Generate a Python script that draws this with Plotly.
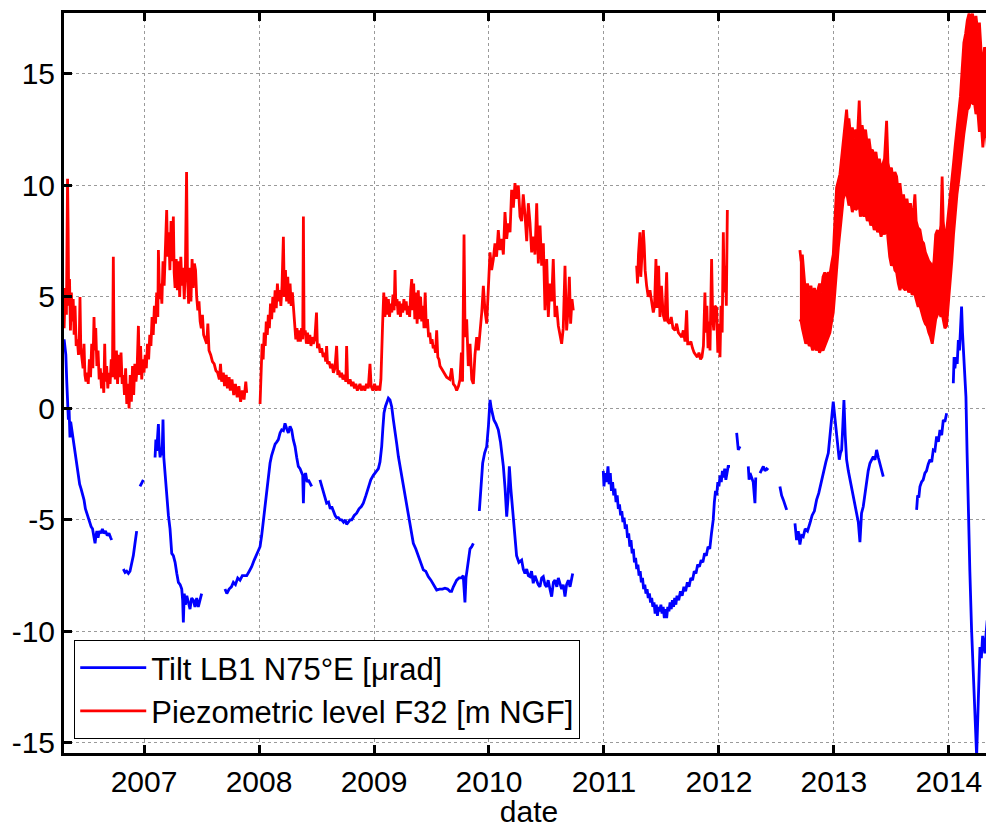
import plotly.graph_objects as go

# ---------------- DATA (decimal year, value) ----------------
# Piezometric level F32 [m NGF] -- red
red1_year = [2006.305, 2006.315, 2006.325, 2006.335, 2006.340, 2006.345, 2006.352, 2006.360, 2006.368, 2006.376,
             2006.384, 2006.392, 2006.400, 2006.410, 2006.420, 2006.430, 2006.438, 2006.443, 2006.450, 2006.460,
             2006.470, 2006.478, 2006.486, 2006.495, 2006.505, 2006.515, 2006.525, 2006.535, 2006.545, 2006.555,
             2006.565, 2006.572, 2006.580, 2006.590, 2006.600, 2006.610, 2006.620, 2006.630, 2006.640, 2006.650,
             2006.658, 2006.665, 2006.675, 2006.685, 2006.695, 2006.705, 2006.715, 2006.725, 2006.733, 2006.740,
             2006.750, 2006.760, 2006.770, 2006.780, 2006.790, 2006.800, 2006.810, 2006.820, 2006.830, 2006.840,
             2006.850, 2006.860, 2006.870, 2006.880, 2006.890, 2006.900, 2006.910, 2006.920, 2006.930, 2006.940,
             2006.951, 2006.960, 2006.970, 2006.980, 2006.990, 2007.000, 2007.010, 2007.020, 2007.030, 2007.040,
             2007.050, 2007.060, 2007.070, 2007.080, 2007.090, 2007.100, 2007.110, 2007.120, 2007.125, 2007.135,
             2007.145, 2007.155, 2007.165, 2007.175, 2007.185, 2007.197, 2007.205, 2007.215, 2007.225, 2007.235,
             2007.245, 2007.255, 2007.262, 2007.270, 2007.280, 2007.290, 2007.300, 2007.310, 2007.320, 2007.330,
             2007.340, 2007.350, 2007.360, 2007.370, 2007.378, 2007.388, 2007.398, 2007.408, 2007.418, 2007.428,
             2007.438, 2007.448, 2007.458, 2007.468, 2007.478, 2007.488, 2007.498, 2007.508, 2007.518, 2007.530,
             2007.545, 2007.555, 2007.565, 2007.580, 2007.595, 2007.610, 2007.625, 2007.640, 2007.655, 2007.665,
             2007.675, 2007.690, 2007.700, 2007.715, 2007.725, 2007.740, 2007.750, 2007.765, 2007.780, 2007.795,
             2007.810, 2007.825, 2007.840, 2007.855, 2007.870, 2007.885, 2007.893]
red1_val = [3.6, 5.4, 4.2, 10.3, 8.0, 4.6, 5.8, 3.5, 5.2, 3.9,
            4.9, 3.3, 4.6, 2.8, 3.1, 2.4, 3.4, 5.0, 2.7, 2.3,
            1.8, 2.9, 1.5, 1.2, 1.6, 1.1, 2.2, 1.4, 2.9, 1.8,
            4.1, 2.6, 3.6, 1.9, 2.6, 1.3, 1.8, 0.9, 1.6, 0.7,
            2.9, 1.2, 1.9, 0.9, 1.6, 1.1, 2.2, 1.4, 6.8, 2.0,
            1.3, 2.6, 1.1, 2.4, 1.4, 2.5, 1.1, 1.5, 0.6, 1.8,
            0.2, 1.1, 0.0, 1.5, 0.3, 1.9, 0.6, 2.0, 1.2, 1.8,
            3.7, 1.5, 2.8, 1.3, 2.2, 1.6, 2.4, 1.8, 2.9, 2.2,
            3.3, 2.8, 4.1, 3.3, 4.6, 3.8, 5.2, 4.1, 7.1, 4.9,
            5.6, 4.7, 6.6, 5.5, 7.3, 8.9, 6.8, 7.9, 6.2, 8.4,
            6.6, 8.6, 6.1, 5.4, 6.7, 5.3, 6.6, 5.0, 6.8, 5.5,
            6.3, 4.9, 6.4, 10.6, 5.9, 4.7, 6.3, 4.8, 6.7, 5.4,
            6.5, 6.2, 5.0, 4.4, 4.8, 3.9, 3.6, 4.2, 3.3, 3.1,
            2.9, 3.8, 2.6, 2.4, 2.1, 2.0, 1.7, 1.6, 1.3, 2.0,
            1.2, 1.6, 1.0, 1.5, 0.9, 1.4, 0.8, 1.3, 0.6, 1.1,
            0.5, 1.0, 0.3, 0.8, 0.4, 1.2, 0.7]

red2_year = [2008.009, 2008.018, 2008.027, 2008.036, 2008.045, 2008.054, 2008.063, 2008.072, 2008.081, 2008.090,
             2008.100, 2008.110, 2008.120, 2008.130, 2008.140, 2008.150, 2008.160, 2008.170, 2008.180, 2008.190,
             2008.200, 2008.212, 2008.220, 2008.230, 2008.240, 2008.250, 2008.260, 2008.270, 2008.280, 2008.290,
             2008.300, 2008.310, 2008.320, 2008.330, 2008.340, 2008.350, 2008.360, 2008.370, 2008.380, 2008.386,
             2008.392, 2008.402, 2008.412, 2008.422, 2008.432, 2008.442, 2008.452, 2008.462, 2008.472, 2008.485,
             2008.500, 2008.508, 2008.520, 2008.532, 2008.545, 2008.558, 2008.570, 2008.580, 2008.588, 2008.596,
             2008.610, 2008.622, 2008.635, 2008.647, 2008.660, 2008.675, 2008.685, 2008.695, 2008.705, 2008.718,
             2008.730, 2008.745, 2008.755, 2008.762, 2008.770, 2008.780, 2008.792, 2008.805, 2008.818, 2008.830,
             2008.842, 2008.855, 2008.867, 2008.878, 2008.890, 2008.905, 2008.920, 2008.935, 2008.950, 2008.965,
             2008.975, 2008.990, 2009.005, 2009.020, 2009.035, 2009.050, 2009.060, 2009.065, 2009.075, 2009.085,
             2009.095, 2009.105, 2009.115, 2009.125, 2009.135, 2009.145, 2009.155, 2009.165, 2009.175, 2009.183,
             2009.190, 2009.200, 2009.210, 2009.220, 2009.230, 2009.240, 2009.250, 2009.260, 2009.270, 2009.280,
             2009.290, 2009.300, 2009.310, 2009.320, 2009.328, 2009.335, 2009.345, 2009.355, 2009.365, 2009.375,
             2009.385, 2009.395, 2009.405, 2009.415, 2009.425, 2009.435, 2009.445, 2009.455, 2009.465, 2009.475,
             2009.485, 2009.495, 2009.505, 2009.515, 2009.525, 2009.535, 2009.545, 2009.555, 2009.565, 2009.574,
             2009.600, 2009.632, 2009.660, 2009.675, 2009.690, 2009.705, 2009.719, 2009.735, 2009.748, 2009.760,
             2009.770, 2009.783, 2009.792, 2009.806, 2009.820, 2009.835, 2009.850, 2009.864, 2009.878, 2009.893,
             2009.908, 2009.922, 2009.937, 2009.951, 2009.965, 2009.980, 2009.995, 2010.009, 2010.023, 2010.038,
             2010.052, 2010.066, 2010.081, 2010.095, 2010.110, 2010.125, 2010.139, 2010.154, 2010.168, 2010.183,
             2010.197, 2010.212, 2010.226, 2010.240, 2010.255, 2010.270, 2010.284, 2010.298, 2010.313, 2010.328,
             2010.342, 2010.357, 2010.371, 2010.386, 2010.400, 2010.415, 2010.429, 2010.444, 2010.458, 2010.473,
             2010.487, 2010.502, 2010.516, 2010.530, 2010.545, 2010.559, 2010.574, 2010.588, 2010.603, 2010.617,
             2010.632, 2010.646, 2010.661, 2010.675, 2010.690, 2010.699, 2010.710, 2010.722, 2010.733]
red2_val = [0.2, 1.5, 2.9, 2.2, 3.4, 2.8, 3.9, 3.3, 4.2, 3.6,
            4.7, 4.0, 5.0, 4.3, 5.3, 4.5, 5.6, 4.8, 5.3, 4.6,
            5.5, 7.7, 5.0, 6.2, 4.8, 5.9, 4.7, 5.6, 4.6, 5.2,
            4.4, 3.6, 3.1, 3.6, 3.0, 3.5, 3.0, 3.6, 3.1, 8.6,
            3.3, 3.5, 2.9, 3.4, 2.9, 3.3, 2.8, 3.2, 2.9, 3.1,
            4.3, 2.7, 2.9, 2.5, 2.7, 2.3, 2.5, 2.1, 2.8, 2.0,
            2.1, 1.8, 2.0, 1.6, 1.8, 2.8, 1.5, 1.7, 1.4, 1.6,
            1.3, 1.5, 1.2, 2.8, 1.3, 1.1, 1.3, 1.0, 1.2, 0.9,
            1.1, 0.8, 1.0, 1.1, 0.8, 1.0, 0.8, 1.1, 0.9, 2.0,
            1.0, 0.8, 1.1, 0.8, 1.0, 0.8, 1.3, 2.5, 3.8, 5.2,
            4.1, 5.0, 4.2, 4.9, 4.1, 4.7, 4.3, 5.1, 4.4, 6.2,
            4.6, 4.9, 4.2, 4.8, 4.1, 4.7, 4.3, 4.9, 4.4, 4.8,
            4.2, 4.6, 4.1, 5.3, 5.8, 4.4, 5.6, 4.0, 5.2, 3.8,
            5.3, 4.0, 5.0, 3.9, 4.6, 3.6, 5.2, 3.6, 4.0, 3.2,
            3.4, 2.9, 3.1, 2.7, 2.8, 2.5, 3.5, 2.3, 2.2, 1.9,
            1.7, 1.4, 1.3, 1.8, 1.1, 1.0, 0.8, 1.0, 1.3, 2.5,
            1.2, 7.8, 3.2, 4.0, 1.9, 2.9, 1.3, 1.1, 2.4, 3.2,
            2.6, 3.4, 4.3, 5.5, 4.4, 3.8, 5.6, 7.0, 6.2, 6.7,
            7.4, 6.8, 8.0, 7.1, 7.6, 6.9, 8.8, 7.6, 8.3, 7.9,
            9.8, 9.0, 10.1, 9.4, 10.0, 8.6, 8.4, 9.6, 8.7, 7.5,
            9.2, 8.3, 7.0, 7.7, 6.9, 9.2, 6.5, 8.2, 6.4, 7.4,
            4.4, 6.7, 4.1, 5.6, 4.8, 6.7, 4.1, 4.6, 3.7, 3.3,
            2.9, 3.6, 6.4, 3.5, 4.6, 5.9, 3.8, 4.9, 4.4]

red3_year = [2011.284, 2011.292, 2011.300, 2011.313, 2011.320, 2011.328, 2011.342, 2011.350, 2011.358, 2011.371,
             2011.385, 2011.400, 2011.415, 2011.429, 2011.440, 2011.452, 2011.462, 2011.475, 2011.487, 2011.500,
             2011.515, 2011.530, 2011.545, 2011.555, 2011.570, 2011.585, 2011.600, 2011.618, 2011.632, 2011.647,
             2011.662, 2011.676, 2011.690, 2011.705, 2011.719, 2011.728, 2011.742, 2011.756, 2011.770, 2011.784,
             2011.798, 2011.812, 2011.826, 2011.840, 2011.852, 2011.865, 2011.878, 2011.886, 2011.895, 2011.905,
             2011.914, 2011.922, 2011.936, 2011.945, 2011.955, 2011.965, 2011.980, 2011.990, 2012.000, 2012.009,
             2012.018, 2012.028, 2012.038, 2012.046, 2012.055, 2012.064, 2012.073]
red3_val = [6.4, 5.6, 6.9, 7.9, 5.9, 6.6, 8.0, 7.3, 6.2, 5.5,
            5.0, 5.3, 4.7, 4.3, 4.6, 6.7, 4.5, 6.4, 4.1, 5.5,
            4.2, 3.9, 6.1, 3.9, 3.8, 4.1, 3.6, 3.5, 3.8, 3.4,
            3.3, 3.2, 3.5, 3.0, 4.4, 2.9, 2.9, 3.0, 2.7, 2.5,
            2.4, 2.3, 2.5, 2.2, 2.3, 2.8, 5.2, 3.4, 4.6, 2.7,
            3.9, 2.6, 6.7, 4.1, 3.5, 4.6, 4.5, 2.5, 3.8, 2.3,
            4.6, 3.4, 7.9, 5.2, 6.4, 4.6, 8.9]

# thick noisy band (2012.7 - 2014.4): upper and lower envelope
band_year = [2012.704, 2012.715, 2012.725, 2012.740, 2012.755, 2012.770, 2012.785, 2012.800, 2012.815, 2012.830,
             2012.845, 2012.860, 2012.875, 2012.890, 2012.905, 2012.920, 2012.935, 2012.950, 2012.965, 2012.980,
             2012.994, 2013.008, 2013.023, 2013.038, 2013.052, 2013.066, 2013.081, 2013.095, 2013.110, 2013.120,
             2013.130, 2013.145, 2013.160, 2013.175, 2013.190, 2013.205, 2013.220, 2013.230, 2013.245, 2013.260,
             2013.275, 2013.290, 2013.305, 2013.320, 2013.335, 2013.350, 2013.365, 2013.380, 2013.395, 2013.410,
             2013.425, 2013.440, 2013.458, 2013.470, 2013.485, 2013.500, 2013.515, 2013.530, 2013.545, 2013.560,
             2013.574, 2013.590, 2013.605, 2013.620, 2013.635, 2013.650, 2013.665, 2013.680, 2013.695, 2013.704,
             2013.715, 2013.730, 2013.748, 2013.765, 2013.780, 2013.795, 2013.810, 2013.825, 2013.840, 2013.855,
             2013.870, 2013.885, 2013.900, 2013.915, 2013.930, 2013.941, 2013.950, 2013.965, 2013.979, 2013.994,
             2014.008, 2014.025, 2014.040, 2014.055, 2014.070, 2014.085, 2014.100, 2014.115, 2014.130, 2014.145,
             2014.160, 2014.175, 2014.190, 2014.205, 2014.220, 2014.235, 2014.250, 2014.265, 2014.280, 2014.295,
             2014.310, 2014.325, 2014.340, 2014.355, 2014.370, 2014.392]
band_upper = [7.1, 6.6, 6.9, 5.9, 5.0, 5.6, 5.2, 5.5, 5.0, 5.4,
              5.1, 5.3, 5.6, 5.2, 5.9, 6.1, 5.8, 6.1, 6.0, 6.5,
              6.9, 8.4, 9.9, 10.2, 10.5, 11.2, 11.9, 12.8, 13.4, 12.6,
              13.0, 12.2, 12.6, 12.1, 12.5, 12.2, 13.8, 12.4, 12.7, 12.2,
              12.5, 11.8, 12.1, 11.5, 11.6, 11.2, 11.5, 10.9, 11.2, 10.7,
              11.0, 11.2, 12.9, 11.0, 10.6, 10.8, 10.2, 10.6, 10.4, 9.6,
              10.1, 9.3, 9.6, 9.0, 9.4, 8.8, 9.2, 8.6, 9.0, 9.6,
              8.4, 8.1, 8.0, 7.5, 7.4, 7.0, 6.8, 6.6, 6.5, 6.2,
              6.6, 7.8, 8.0, 7.6, 8.2, 10.4, 8.4, 7.6, 7.9, 8.6,
              9.4, 10.3, 11.0, 11.8, 12.6, 13.2, 14.0, 15.2, 16.4, 16.8,
              17.4, 17.7, 17.5, 17.7, 17.2, 17.6, 16.9, 17.3, 16.0, 15.4,
              16.2, 15.8, 16.5, 15.6, 14.7, 13.8]
band_lower = [4.0, 3.9, 3.6, 3.3, 2.9, 3.1, 2.8, 2.9, 2.6, 2.9,
              2.6, 2.8, 2.5, 2.7, 2.6, 2.8, 3.0, 3.2, 3.4, 3.9,
              4.3, 5.2, 6.4, 7.2, 7.9, 8.6, 9.4, 9.6, 9.7, 9.4,
              9.1, 9.3, 8.8, 9.2, 8.9, 9.0, 9.1, 8.6, 8.9, 8.6,
              8.8, 8.4, 8.6, 8.2, 8.4, 8.0, 8.2, 7.9, 8.1, 7.7,
              8.0, 7.8, 8.4, 7.6, 6.8, 6.4, 6.6, 6.2, 6.1, 5.6,
              5.3, 5.6, 5.4, 5.3, 5.5, 5.2, 5.4, 5.1, 5.2, 5.1,
              4.9, 4.6, 4.6, 4.2, 4.0, 3.8, 3.7, 3.4, 3.2, 2.9,
              3.4, 4.0, 4.2, 4.4, 4.1, 4.3, 4.0, 3.6, 3.7, 4.6,
              5.5, 6.6, 7.8, 8.8, 9.6, 10.2, 10.8, 11.6, 12.3, 12.8,
              13.4, 13.5, 13.8, 13.7, 13.8, 13.2, 13.4, 12.4, 12.9, 11.7,
              12.6, 12.3, 11.4, 12.0, 11.2, 10.8]

# Tilt LB1 N75°E [µrad] -- blue
blue1_year = [2006.305, 2006.320, 2006.328, 2006.336, 2006.342, 2006.348, 2006.356, 2006.362, 2006.370, 2006.380,
              2006.392, 2006.404, 2006.416, 2006.428, 2006.440, 2006.452, 2006.465, 2006.478, 2006.490, 2006.502,
              2006.515, 2006.528, 2006.540, 2006.552, 2006.562, 2006.574, 2006.582, 2006.590, 2006.600, 2006.612,
              2006.625, 2006.638, 2006.650, 2006.665, 2006.680, 2006.695, 2006.710, 2006.719]
blue1_val = [3.1, 2.4, 1.2, 0.1, -0.5, 0.0, -1.3, -0.6, -0.9, -1.3,
             -1.8, -2.2, -2.6, -3.0, -3.4, -3.6, -3.8, -4.1, -4.5, -4.7,
             -4.9, -5.1, -5.3, -5.4, -5.7, -6.05, -5.7, -5.5, -5.8, -5.5,
             -5.6, -5.4, -5.6, -5.5, -5.7, -5.6, -5.8, -5.9]
blue2_year = [2006.820, 2006.835, 2006.849, 2006.864, 2006.878, 2006.893, 2006.907, 2006.920, 2006.936]
blue2_val = [-7.2, -7.35, -7.3, -7.4, -7.3, -7.0, -6.6, -6.1, -5.5]
blue3_year = [2006.965, 2006.980, 2006.994]
blue3_val = [-3.5, -3.3, -3.2]
blue4_year = [2007.096, 2007.103, 2007.110, 2007.118, 2007.125, 2007.132, 2007.140, 2007.147, 2007.155, 2007.160,
              2007.165, 2007.172, 2007.180, 2007.197, 2007.212, 2007.226, 2007.241, 2007.255, 2007.270, 2007.285,
              2007.299, 2007.314, 2007.328, 2007.336, 2007.342, 2007.350, 2007.360, 2007.372, 2007.386, 2007.400,
              2007.414, 2007.429, 2007.443, 2007.458, 2007.472, 2007.487, 2007.501]
blue4_val = [-2.2, -1.4, -1.9, -1.2, -0.7, -1.7, -2.2, -1.8, -2.1, -1.5,
             -0.5, -2.2, -2.8, -4.1, -4.8, -5.4, -6.5, -6.6, -6.9, -7.4,
             -7.8, -7.9, -8.1, -8.6, -9.6, -8.3, -8.8, -8.4, -8.7, -9.0,
             -8.5, -8.6, -8.9, -8.5, -8.9, -8.6, -8.3]
blue5_year = [2007.704, 2007.720, 2007.740, 2007.760, 2007.777, 2007.795, 2007.815, 2007.835, 2007.855, 2007.875,
              2007.893, 2007.915, 2007.936, 2007.958, 2007.980, 2008.009, 2008.023, 2008.038, 2008.052, 2008.067,
              2008.081, 2008.096, 2008.110, 2008.125, 2008.140, 2008.155, 2008.168, 2008.183, 2008.197, 2008.212,
              2008.226, 2008.240, 2008.255, 2008.270, 2008.284, 2008.298, 2008.313, 2008.328, 2008.342, 2008.357,
              2008.371, 2008.380, 2008.386, 2008.392, 2008.405, 2008.418, 2008.429, 2008.444, 2008.458]
blue5_val = [-8.1, -8.3, -8.1, -8.0, -7.8, -7.9, -7.6, -7.7, -7.5, -7.5,
             -7.5, -7.3, -7.1, -6.8, -6.5, -6.2, -5.7, -5.0, -4.3, -3.65,
             -3.0, -2.45, -2.1, -1.86, -1.6, -1.5, -1.4, -1.1, -0.96, -1.0,
             -0.67, -0.9, -1.1, -0.8, -0.96, -1.4, -1.7, -2.2, -2.6, -2.7,
             -2.9, -3.0, -4.25, -3.1, -2.9, -3.3, -3.2, -3.4, -3.5]
blue6_year = [2008.530, 2008.545, 2008.560, 2008.575, 2008.588, 2008.605, 2008.620, 2008.632, 2008.650, 2008.662,
              2008.675, 2008.690, 2008.705, 2008.719, 2008.735, 2008.750, 2008.762, 2008.778, 2008.792, 2008.806,
              2008.828, 2008.849, 2008.870, 2008.890, 2008.907, 2008.930, 2008.951, 2008.972, 2008.994, 2009.015,
              2009.038, 2009.052, 2009.067, 2009.077, 2009.087, 2009.100, 2009.112, 2009.125, 2009.139, 2009.154,
              2009.168, 2009.183, 2009.198, 2009.212, 2009.233, 2009.255, 2009.277, 2009.298, 2009.320, 2009.342,
              2009.364, 2009.385, 2009.407, 2009.429, 2009.450, 2009.472, 2009.495, 2009.520, 2009.545, 2009.570,
              2009.595, 2009.617, 2009.640, 2009.660, 2009.675, 2009.690, 2009.705, 2009.719, 2009.740, 2009.762,
              2009.776, 2009.784, 2009.791, 2009.800, 2009.812, 2009.824, 2009.835, 2009.850, 2009.864]
blue6_val = [-3.2, -3.5, -3.8, -4.0, -4.25, -4.2, -4.5, -4.4, -4.7, -4.8,
             -4.9, -4.9, -5.0, -5.0, -5.1, -5.0, -5.2, -5.1, -5.0, -5.0,
             -4.8, -4.7, -4.5, -4.4, -4.25, -3.9, -3.5, -3.2, -3.0, -2.85,
             -2.7, -2.4, -1.7, -0.9, -0.2, 0.1, 0.3, 0.46, 0.38, 0.08,
             -0.5, -0.96, -1.6, -2.16, -2.8, -3.5, -4.2, -4.85, -5.5, -6.05,
             -6.3, -6.6, -6.9, -7.24, -7.3, -7.54, -7.7, -7.9, -8.14, -8.1,
             -8.1, -8.06, -8.1, -8.2, -8.2, -8.0, -7.8, -7.7, -7.6, -7.6,
             -7.5, -8.1, -8.7, -7.6, -7.1, -6.6, -6.3, -6.2, -6.05]
blue7_year = [2009.916, 2009.930, 2009.945, 2009.962, 2009.980, 2009.995, 2010.009, 2010.020, 2010.030, 2010.043,
              2010.062, 2010.081, 2010.100, 2010.115, 2010.125, 2010.140, 2010.154, 2010.166, 2010.177, 2010.190,
              2010.206, 2010.222, 2010.240, 2010.260, 2010.284, 2010.298, 2010.313, 2010.328, 2010.342, 2010.356,
              2010.370, 2010.385, 2010.400, 2010.414, 2010.428, 2010.443, 2010.458, 2010.472, 2010.487, 2010.501,
              2010.515, 2010.530, 2010.545, 2010.560, 2010.574, 2010.590, 2010.603, 2010.617, 2010.632, 2010.646,
              2010.661, 2010.675, 2010.690, 2010.705, 2010.717, 2010.728]
blue7_val = [-4.6, -3.4, -2.46, -2.0, -1.71, -0.8, 0.38, 0.0, -0.3, -0.52,
             -0.7, -0.96, -1.5, -2.1, -2.6, -3.6, -4.85, -4.0, -2.6, -3.6,
             -4.7, -5.8, -6.6, -6.9, -6.8, -7.2, -7.4, -7.2, -7.5, -7.54,
             -7.3, -7.84, -7.5, -7.7, -7.9, -8.0, -7.6, -7.54, -7.9, -8.0,
             -7.7, -8.1, -8.44, -7.8, -7.7, -8.0, -7.6, -7.84, -8.1, -7.9,
             -8.44, -7.9, -7.7, -8.0, -7.6, -7.4]
blue8_year = [2010.994, 2011.000, 2011.010, 2011.023, 2011.035, 2011.045, 2011.055, 2011.065, 2011.075, 2011.085,
              2011.095, 2011.105, 2011.115, 2011.125, 2011.135, 2011.145, 2011.155, 2011.165, 2011.175, 2011.185,
              2011.195, 2011.205, 2011.215, 2011.225, 2011.235, 2011.245, 2011.255, 2011.265, 2011.275, 2011.285,
              2011.295, 2011.305, 2011.315, 2011.325, 2011.335, 2011.345, 2011.355, 2011.365, 2011.375, 2011.385,
              2011.395, 2011.405, 2011.415, 2011.425, 2011.435, 2011.445, 2011.455, 2011.465, 2011.475, 2011.485,
              2011.495, 2011.505, 2011.515, 2011.525, 2011.535, 2011.545, 2011.555, 2011.565, 2011.575, 2011.585,
              2011.595, 2011.605, 2011.615, 2011.625, 2011.635, 2011.650, 2011.665, 2011.680, 2011.695, 2011.710,
              2011.725, 2011.740, 2011.755, 2011.770, 2011.785, 2011.800, 2011.815, 2011.830, 2011.845, 2011.860,
              2011.875, 2011.890, 2011.905, 2011.920, 2011.935, 2011.950, 2011.960, 2011.970, 2011.980, 2011.990,
              2012.000, 2012.010, 2012.020, 2012.030, 2012.040, 2012.050, 2012.060, 2012.070, 2012.080, 2012.096]
blue8_val = [-2.8, -3.5, -2.9, -3.3, -2.6, -3.4, -2.9, -3.7, -3.3, -3.9,
             -3.6, -4.2, -3.9, -4.5, -4.3, -4.8, -4.6, -5.1, -4.9, -5.4,
             -5.2, -5.8, -5.6, -6.2, -5.9, -6.5, -6.3, -6.9, -6.7, -7.2,
             -7.0, -7.5, -7.3, -7.8, -7.6, -8.1, -7.9, -8.3, -8.1, -8.5,
             -8.3, -8.7, -8.5, -8.9, -8.7, -9.2, -8.8, -9.3, -8.9, -9.1,
             -8.8, -9.2, -8.9, -9.4, -9.0, -9.4, -8.9, -9.1, -8.7, -9.0,
             -8.6, -8.9, -8.5, -8.8, -8.4, -8.6, -8.2, -8.4, -8.0, -8.2,
             -7.8, -8.0, -7.6, -7.7, -7.3, -7.4, -7.0, -7.1, -6.8, -6.9,
             -6.5, -6.6, -6.2, -6.3, -5.6, -5.0, -4.2, -3.7, -3.9, -3.3,
             -3.5, -3.0, -3.3, -2.8, -3.1, -2.7, -3.2, -2.8, -2.6, -2.6]
blue9_year = [2012.154, 2012.161, 2012.168, 2012.183]
blue9_val = [-1.1, -1.5, -1.86, -1.7]
blue10_year = [2012.255, 2012.262, 2012.270, 2012.284, 2012.298, 2012.313, 2012.320]
blue10_val = [-2.6, -3.2, -2.9, -3.1, -3.3, -4.25, -3.1]
blue11_year = [2012.357, 2012.372, 2012.386, 2012.400, 2012.415, 2012.429]
blue11_val = [-2.9, -2.7, -2.6, -2.8, -2.7, -2.76]
blue12_year = [2012.530, 2012.545, 2012.560, 2012.575, 2012.589]
blue12_val = [-3.5, -3.9, -4.1, -4.4, -4.55]
blue13_year = [2012.661, 2012.675, 2012.690, 2012.704, 2012.718, 2012.733, 2012.750, 2012.770, 2012.791, 2012.810,
               2012.830, 2012.849, 2012.868, 2012.888, 2012.907, 2012.930, 2012.951, 2012.966, 2012.980, 2012.994,
               2013.008, 2013.023, 2013.035, 2013.046, 2013.057, 2013.067, 2013.077, 2013.087, 2013.098, 2013.110,
               2013.125, 2013.140, 2013.154, 2013.170, 2013.185, 2013.197, 2013.212, 2013.226, 2013.240, 2013.255,
               2013.270, 2013.284, 2013.298, 2013.313, 2013.328, 2013.342, 2013.357, 2013.371, 2013.386, 2013.400,
               2013.415, 2013.429]
blue13_val = [-5.15, -5.9, -5.5, -6.1, -5.7, -5.75, -5.4, -5.5, -5.15, -4.8,
              -4.6, -4.1, -3.8, -3.3, -2.9, -2.4, -2.0, -1.2, -0.37, 0.3,
              -0.4, -1.1, -1.7, -2.3, -2.0, -1.86, -0.8, 0.38, -1.2, -2.3,
              -2.8, -3.2, -3.5, -4.0, -4.3, -4.55, -5.1, -6.0, -4.7, -4.4,
              -3.8, -3.2, -2.8, -2.46, -2.3, -2.16, -2.3, -1.86, -2.2, -2.46,
              -2.7, -3.06]
blue14_year = [2013.719, 2013.728, 2013.738, 2013.748, 2013.762, 2013.776, 2013.791, 2013.805, 2013.820, 2013.835,
               2013.850, 2013.864, 2013.878, 2013.893, 2013.908, 2013.922, 2013.937, 2013.951, 2013.965, 2013.980]
blue14_val = [-4.55, -3.9, -4.0, -3.5, -3.3, -3.2, -2.9, -2.8, -2.5, -2.3,
              -2.4, -1.86, -1.9, -1.26, -1.5, -0.97, -1.2, -0.52, -0.6, -0.22]
blue15_year = [2014.038, 2014.045, 2014.052, 2014.062, 2014.072, 2014.082, 2014.092, 2014.103, 2014.110, 2014.118,
               2014.125, 2014.136, 2014.148, 2014.158, 2014.168, 2014.182, 2014.197, 2014.220, 2014.241, 2014.256,
               2014.270, 2014.282, 2014.293, 2014.303, 2014.313, 2014.323, 2014.333, 2014.345, 2014.357, 2014.368,
               2014.380, 2014.392]
blue15_val = [1.13, 2.3, 1.8, 2.3, 2.0, 3.07, 2.6, 4.0, 4.57, 3.4,
              2.6, 1.6, 0.53, -2.0, -4.7, -7.3, -9.93, -12.9, -15.6, -13.0,
              -10.7, -11.2, -10.2, -10.6, -10.98, -10.1, -9.5, -10.0, -9.8, -9.0,
              -7.7, -6.2]

x_tick_vals = [2007, 2008, 2009, 2010, 2011, 2012, 2013, 2014]
x_tick_text = ["2007", "2008", "2009", "2010", "2011", "2012", "2013", "2014"]
y_tick_vals = [-15, -10, -5, 0, 5, 10, 15]
y_tick_text = ["-15", "-10", "-5", "0", "5", "10", "15"]


def join_segments(*segs):
    xs, ys = [], []
    for i, (sx, sy) in enumerate(segs):
        if i:
            xs.append(None)
            ys.append(None)
        xs.extend(sx)
        ys.extend(sy)
    return xs, ys


blue_x, blue_y = join_segments(
    (blue1_year, blue1_val), (blue2_year, blue2_val), (blue3_year, blue3_val),
    (blue4_year, blue4_val), (blue5_year, blue5_val), (blue6_year, blue6_val),
    (blue7_year, blue7_val), (blue8_year, blue8_val), (blue9_year, blue9_val),
    (blue10_year, blue10_val), (blue11_year, blue11_val), (blue12_year, blue12_val),
    (blue13_year, blue13_val), (blue14_year, blue14_val), (blue15_year, blue15_val))
red_x, red_y = join_segments((red1_year, red1_val), (red2_year, red2_val), (red3_year, red3_val))

RED = "#ff0000"
BLUE = "#0000ff"
FONT = "Liberation Sans, Arial, Helvetica, sans-serif"

fig = go.Figure()
fig.add_trace(go.Scatter(x=blue_x, y=blue_y, mode="lines", name="Tilt LB1 N75°E [μrad]",
                         line=dict(color=BLUE, width=2.8)))
fig.add_trace(go.Scatter(x=red_x, y=red_y, mode="lines", name="Piezometric level F32 [m NGF]",
                         line=dict(color=RED, width=2.8)))
fig.add_trace(go.Scatter(x=band_year, y=band_upper, mode="lines", showlegend=False,
                         line=dict(color=RED, width=2.8)))
fig.add_trace(go.Scatter(x=band_year, y=band_lower, mode="lines", showlegend=False, fill="tonexty",
                         fillcolor=RED, line=dict(color=RED, width=2.8)))

axis_common = dict(showline=True, linecolor="black", linewidth=3, mirror="ticks",
                   ticks="inside", ticklen=8, tickwidth=3, tickcolor="black",
                   showgrid=True, gridcolor="#9a9a9a", gridwidth=1.3, griddash="dot",
                   zeroline=False, tickfont=dict(family=FONT, size=30, color="black"))

fig.update_xaxes(range=[2006.304, 2014.392], tickmode="array", tickvals=x_tick_vals, ticktext=x_tick_text,
                 title=dict(text="date", font=dict(family=FONT, size=30, color="black"), standoff=2),
                 **axis_common)
fig.update_yaxes(range=[-15.45, 17.73], tickmode="array", tickvals=y_tick_vals, ticktext=y_tick_text,
                 **axis_common)

# the page body has an 8 px default margin; the figure is sized to fill the rest of the window
fig.update_layout(
    width=986, height=820,
    margin=dict(l=56, r=0, t=5, b=75, autoexpand=False),
    plot_bgcolor="white", paper_bgcolor="white",
    font=dict(family=FONT, size=30, color="black"),
    showlegend=True,
    legend=dict(x=0.011, y=0.019, xanchor="left", yanchor="bottom", traceorder="normal",
                bgcolor="white", bordercolor="black", borderwidth=1,
                font=dict(family=FONT, size=31, color="black"),
                itemwidth=66, tracegroupgap=0),
)

fig.write_html("out.html")
